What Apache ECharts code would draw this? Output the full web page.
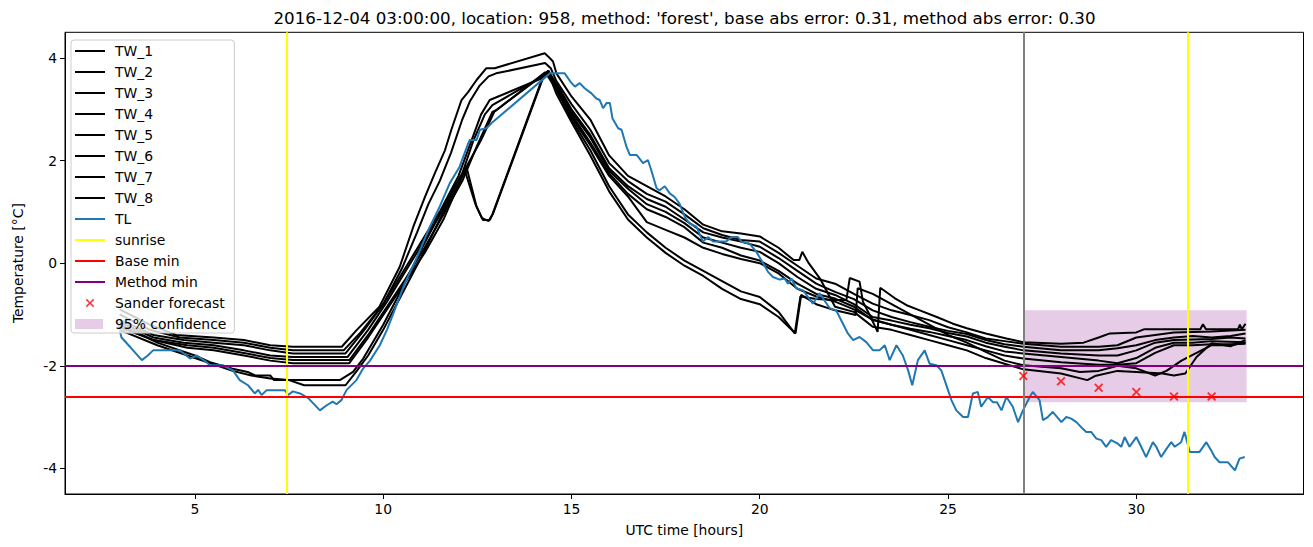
<!DOCTYPE html>
<html>
<head>
<meta charset="utf-8">
<script src="https://cdn.jsdelivr.net/npm/echarts@6/dist/echarts.min.js"></script>
<style>html,body{margin:0;padding:0;background:#fff}#c{width:1313px;height:547px}</style>
</head>
<body>
<div id="c"></div>
<script>
const titleText = "2016-12-04 03:00:00, location: 958, method: 'forest', base abs error: 0.31, method abs error: 0.30";
const xTicks = [5, 10, 15, 20, 25, 30];
const yTicks = [-4, -2, 0, 2, 4];
const twNames = ['TW_1','TW_2','TW_3','TW_4','TW_5','TW_6','TW_7','TW_8'];

const tw1 = [[3.0,-0.9],[3.8,-1.2],[4.5,-1.4],[5.5,-1.45],[6.3,-1.5],[7.0,-1.6],[7.6,-1.63],[8.9,-1.63],[9.3,-1.3],[9.9,-0.85],[10.44,-0.07],[10.8,0.71],[11.11,1.29],[11.37,1.75],[11.64,2.2],[11.81,2.6],[12.08,3.18],[12.26,3.34],[12.48,3.57],[12.74,3.8],[12.96,3.8],[14.29,4.09],[14.38,4.03],[14.51,3.93],[14.6,3.7],[15.0,3.25],[15.5,2.8],[16.0,2.1],[16.5,1.7],[17.0,1.5],[17.5,1.3],[18.0,1.05],[18.5,0.75],[19.0,0.62],[19.5,0.58],[20.0,0.52],[20.5,0.3],[20.9,0.06],[21.05,0.06],[21.13,0.22],[21.3,0.0],[21.6,-0.3],[22.0,-0.85],[22.5,-0.95],[23.0,-1.24],[23.5,-1.3],[24.0,-1.4],[24.5,-1.5],[25.0,-1.6],[25.5,-1.7],[26.0,-1.85],[26.5,-1.96],[27.0,-2.07],[28.0,-2.15],[28.7,-2.28],[28.9,-2.2],[29.5,-2.1],[30.0,-2.12],[30.7,-2.15],[31.0,-2.19],[31.3,-2.15],[31.6,-1.83],[32.0,-1.56],[32.5,-1.62],[32.9,-1.5]];
const tw2 = [[3.0,-1.0],[3.8,-1.3],[4.6,-1.45],[5.5,-1.5],[6.3,-1.55],[7.0,-1.65],[7.6,-1.7],[8.95,-1.7],[9.4,-1.35],[10.0,-0.8],[10.5,-0.1],[10.9,0.6],[11.2,1.15],[11.5,1.6],[11.8,2.15],[12.1,2.8],[12.3,3.15],[12.55,3.45],[12.8,3.64],[13.0,3.7],[14.3,3.9],[14.45,3.8],[14.6,3.55],[15.0,3.1],[15.5,2.6],[16.0,1.95],[16.5,1.6],[17.0,1.35],[17.5,1.2],[18.0,0.95],[18.5,0.68],[19.0,0.55],[19.5,0.45],[20.0,0.42],[20.5,0.2],[21.0,-0.05],[21.5,-0.3],[22.0,-0.4],[22.5,-0.6],[23.0,-0.79],[23.5,-0.92],[24.0,-1.01],[24.5,-1.11],[25.0,-1.25],[25.5,-1.35],[26.0,-1.47],[26.5,-1.52],[27.0,-1.57],[28.0,-1.63],[29.0,-1.63],[29.5,-1.6],[30.0,-1.45],[30.5,-1.4],[31.0,-1.35],[32.0,-1.33],[32.9,-1.3]];
const tw3 = [[3.0,-1.1],[3.9,-1.4],[4.7,-1.5],[5.5,-1.55],[6.3,-1.6],[7.0,-1.7],[7.6,-1.76],[9.0,-1.76],[9.5,-1.3],[10.0,-0.8],[10.5,-0.2],[11.0,0.4],[11.5,1.0],[12.0,1.7],[12.3,2.3],[12.6,2.9],[12.83,3.18],[14.2,3.6],[14.38,3.75],[14.6,3.5],[15.0,3.0],[15.5,2.5],[16.0,1.85],[16.5,1.5],[17.0,1.25],[17.5,1.1],[18.0,0.85],[18.5,0.6],[19.0,0.5],[19.5,0.42],[20.0,0.32],[20.5,0.1],[21.0,-0.15],[21.5,-0.4],[22.0,-0.56],[22.5,-0.7],[23.0,-0.92],[23.5,-1.05],[24.0,-1.15],[24.5,-1.24],[25.0,-1.32],[25.5,-1.38],[26.0,-1.5],[26.5,-1.58],[27.0,-1.63],[28.0,-1.7],[29.0,-1.7],[29.5,-1.66],[30.0,-1.6],[30.5,-1.5],[31.0,-1.45],[31.5,-1.42],[32.0,-1.45],[32.5,-1.42],[32.9,-1.37]];
const tw4 = [[3.0,-1.15],[3.9,-1.45],[4.7,-1.55],[5.5,-1.6],[6.3,-1.7],[7.0,-1.8],[7.6,-1.83],[9.05,-1.83],[9.6,-1.3],[10.1,-0.75],[10.6,-0.15],[11.1,0.45],[11.6,1.05],[12.1,1.75],[12.4,2.4],[12.7,2.9],[12.9,3.08],[14.25,3.65],[14.4,3.7],[14.65,3.4],[15.0,2.95],[15.5,2.45],[16.0,1.8],[16.5,1.45],[17.0,1.15],[17.5,1.0],[18.0,0.78],[18.5,0.5],[19.0,0.4],[19.5,0.3],[20.0,0.22],[20.5,0.0],[21.0,-0.27],[21.5,-0.5],[22.0,-0.62],[22.5,-0.8],[23.0,-1.05],[23.5,-1.12],[24.0,-1.2],[24.5,-1.27],[25.0,-1.36],[25.5,-1.43],[26.0,-1.55],[26.5,-1.63],[27.0,-1.7],[28.0,-1.76],[29.0,-1.8],[29.5,-1.8],[30.0,-1.7],[30.5,-1.55],[31.0,-1.5],[32.0,-1.48],[32.5,-1.45],[32.9,-1.47]];
const tw5 = [[3.0,-1.2],[3.9,-1.5],[4.8,-1.6],[5.5,-1.65],[6.3,-1.75],[7.0,-1.85],[7.6,-1.89],[9.1,-1.89],[9.6,-1.4],[10.1,-0.85],[10.6,-0.3],[11.1,0.3],[11.6,0.95],[12.1,1.6],[12.5,2.3],[12.9,2.95],[13.0,2.98],[14.3,3.7],[14.45,3.6],[14.7,3.3],[15.0,2.9],[15.5,2.35],[16.0,1.75],[16.5,1.35],[17.0,1.05],[17.5,0.9],[18.0,0.7],[18.5,0.4],[19.0,0.3],[19.5,0.15],[20.0,0.05],[20.5,-0.15],[21.0,-0.4],[21.5,-0.6],[22.0,-0.69],[22.5,-0.85],[23.0,-1.11],[23.5,-1.2],[24.0,-1.28],[24.5,-1.34],[25.0,-1.42],[25.5,-1.5],[26.0,-1.62],[26.5,-1.72],[27.0,-1.76],[28.0,-1.83],[29.0,-1.9],[29.5,-1.95],[30.0,-1.85],[30.5,-1.65],[31.0,-1.55],[31.5,-1.55],[32.0,-1.52],[32.9,-1.54]];
const tw6 = [[3.0,-1.25],[3.9,-1.5],[4.8,-1.65],[5.5,-1.7],[6.3,-1.8],[7.0,-1.9],[7.6,-1.95],[9.1,-1.95],[9.6,-1.45],[10.1,-0.9],[10.6,-0.35],[11.1,0.2],[11.6,0.85],[12.21,1.88],[12.6,2.4],[12.95,2.95],[14.3,3.72],[14.5,3.5],[14.8,3.1],[15.0,2.85],[15.5,2.3],[16.0,1.7],[16.5,1.3],[17.0,0.8],[17.5,0.65],[18.0,0.5],[18.5,0.3],[19.0,0.18],[19.5,0.08],[20.0,0.0],[20.5,-0.2],[21.0,-0.5],[21.5,-0.65],[22.0,-0.75],[22.5,-0.9],[23.0,-1.1],[23.5,-1.2],[24.0,-1.3],[24.5,-1.4],[25.0,-1.5],[25.5,-1.6],[26.0,-1.7],[26.5,-1.8],[27.0,-1.86],[28.0,-1.93],[29.0,-1.98],[29.5,-1.98],[30.0,-1.95],[30.5,-1.75],[31.0,-1.6],[31.5,-1.6],[32.0,-1.58],[32.5,-1.58],[32.9,-1.57]];
const tw7 = [[3.0,-1.2],[4.0,-1.55],[5.0,-1.8],[5.4,-1.93],[6.0,-2.06],[6.4,-2.12],[6.6,-2.19],[7.0,-2.19],[7.1,-2.28],[8.85,-2.28],[9.2,-2.12],[9.47,-1.86],[10.0,-1.2],[10.5,-0.5],[11.0,0.25],[11.5,0.95],[11.9,1.5],[12.21,1.88],[12.48,1.1],[12.65,0.84],[12.83,0.84],[12.92,0.97],[14.29,3.7],[14.4,3.75],[14.6,3.4],[15.0,2.8],[15.5,2.2],[16.0,1.5],[16.5,0.95],[17.0,0.6],[17.5,0.3],[18.0,0.05],[18.5,-0.15],[19.0,-0.35],[19.5,-0.55],[20.0,-0.66],[20.5,-0.95],[20.93,-1.37],[21.08,-0.65],[21.5,-0.7],[22.0,-0.72],[22.3,-0.72],[22.39,-0.29],[22.65,-0.36],[22.74,-0.75],[22.92,-1.01],[23.13,-1.34],[23.2,-0.48],[23.58,-0.68],[23.9,-0.82],[24.25,-0.92],[24.7,-1.05],[25.13,-1.18],[25.5,-1.27],[26.0,-1.37],[26.55,-1.47],[27.0,-1.54],[28.0,-1.57],[28.6,-1.55],[29.0,-1.45],[29.3,-1.37],[30.0,-1.35],[30.2,-1.29],[31.7,-1.29],[31.77,-1.19],[31.85,-1.29],[32.7,-1.29],[32.75,-1.2],[32.8,-1.29],[32.9,-1.18]];
const tw8 = [[3.0,-1.3],[4.0,-1.6],[5.0,-1.85],[6.0,-2.1],[6.5,-2.19],[7.0,-2.25],[7.5,-2.28],[7.9,-2.38],[9.0,-2.38],[9.3,-2.1],[9.6,-1.8],[10.0,-1.3],[10.5,-0.6],[11.0,0.1],[11.5,0.85],[11.9,1.4],[12.17,1.8],[12.45,1.15],[12.62,0.88],[12.8,0.82],[12.9,0.95],[14.25,3.65],[14.38,3.72],[14.6,3.3],[15.0,2.75],[15.5,2.1],[16.0,1.4],[16.5,0.85],[17.0,0.5],[17.5,0.2],[18.0,-0.05],[18.5,-0.25],[19.0,-0.5],[19.5,-0.7],[20.0,-0.8],[20.5,-1.05],[20.95,-1.37],[21.1,-0.62],[21.5,-0.8],[22.0,-0.92],[22.55,-1.01],[22.6,-0.49],[23.0,-0.6],[23.5,-0.8],[24.0,-1.0],[24.5,-1.2],[25.0,-1.4],[25.5,-1.55],[26.0,-1.73],[26.5,-1.9],[27.0,-1.99],[28.0,-2.05],[28.5,-2.12],[29.0,-2.1],[29.5,-2.0],[30.0,-2.05],[30.5,-2.19],[30.8,-2.1],[31.2,-1.9],[31.6,-1.75],[32.0,-1.6],[32.5,-1.6],[32.9,-1.55]];

const tl = [[2.93,-1.1],[3.05,-1.45],[3.3,-1.65],[3.59,-1.89],[3.75,-1.8],[3.89,-1.7],[4.6,-1.7],[4.87,-1.86],[5.05,-1.8],[5.31,-1.93],[5.4,-1.99],[5.74,-1.99],[6.01,-2.09],[6.19,-2.28],[6.41,-2.38],[6.59,-2.54],[6.68,-2.47],[6.77,-2.57],[6.9,-2.48],[7.39,-2.48],[7.48,-2.57],[7.6,-2.5],[7.79,-2.54],[8.01,-2.63],[8.32,-2.87],[8.5,-2.77],[8.66,-2.7],[8.76,-2.75],[8.89,-2.67],[9.03,-2.47],[9.29,-2.28],[9.47,-2.05],[9.65,-1.9],[9.91,-1.6],[10.1,-1.3],[10.26,-1.0],[10.57,-0.4],[10.89,0.1],[11.24,0.71],[11.5,1.1],[11.77,1.56],[12.03,1.88],[12.26,2.34],[12.3,2.4],[12.48,2.4],[12.57,2.6],[12.74,2.63],[12.88,2.73],[14.38,3.67],[14.42,3.7],[14.6,3.7],[14.82,3.7],[14.97,3.54],[15.09,3.44],[15.22,3.51],[15.35,3.41],[15.53,3.31],[15.66,3.21],[15.75,3.18],[15.84,3.02],[15.93,3.12],[16.02,3.12],[16.09,2.82],[16.24,2.63],[16.33,2.6],[16.46,2.27],[16.55,2.11],[16.73,2.11],[16.9,1.95],[17.03,2.01],[17.12,1.81],[17.26,1.46],[17.34,1.42],[17.48,1.5],[17.61,1.36],[17.74,1.29],[17.87,1.16],[18.01,0.9],[18.14,0.77],[18.32,0.71],[18.49,0.42],[18.63,0.51],[18.76,0.42],[19.11,0.42],[19.25,0.51],[19.42,0.51],[19.51,0.42],[19.73,0.38],[19.91,0.22],[20.09,0.0],[20.22,-0.17],[20.35,-0.27],[20.53,-0.32],[20.66,-0.3],[20.75,-0.4],[20.84,-0.3],[20.97,-0.49],[21.15,-0.53],[21.28,-0.66],[21.41,-0.79],[21.59,-0.59],[21.68,-0.69],[21.86,-0.88],[22.03,-0.92],[22.21,-1.18],[22.34,-1.37],[22.48,-1.5],[22.65,-1.44],[22.83,-1.54],[23.01,-1.7],[23.18,-1.7],[23.32,-1.6],[23.45,-1.89],[23.63,-1.6],[23.8,-1.8],[23.94,-2.09],[24.05,-2.38],[24.2,-1.89],[24.38,-1.7],[24.51,-1.96],[24.69,-1.99],[24.82,-2.09],[24.91,-2.28],[25.09,-2.67],[25.22,-2.87],[25.4,-3.0],[25.53,-3.0],[25.66,-2.54],[25.79,-2.51],[25.88,-2.8],[26.06,-2.61],[26.19,-2.71],[26.3,-2.71],[26.42,-2.87],[26.55,-2.61],[26.72,-2.8],[26.86,-3.1],[26.99,-2.87],[27.17,-2.61],[27.25,-2.51],[27.43,-2.67],[27.52,-3.06],[27.65,-3.0],[27.78,-2.9],[28.01,-3.1],[28.14,-3.0],[28.27,-3.03],[28.41,-3.1],[28.58,-3.23],[28.67,-3.29],[28.8,-3.29],[28.94,-3.42],[29.07,-3.45],[29.2,-3.58],[29.33,-3.45],[29.51,-3.52],[29.6,-3.58],[29.69,-3.39],[29.82,-3.58],[30.0,-3.39],[30.13,-3.58],[30.26,-3.78],[30.44,-3.49],[30.53,-3.58],[30.66,-3.78],[30.8,-3.62],[30.93,-3.49],[31.02,-3.58],[31.19,-3.49],[31.28,-3.29],[31.42,-3.68],[31.68,-3.68],[31.86,-3.49],[31.99,-3.65],[32.08,-3.78],[32.21,-3.88],[32.43,-3.88],[32.62,-4.04],[32.74,-3.81],[32.88,-3.78]];

const sanderHours = [27, 28, 29, 30, 31, 32];
const sanderValues = [-2.2, -2.3, -2.43, -2.51, -2.6, -2.6];
const sunriseHours = [7.44, 31.36];
const forecastHour = [27.0];
const baseMin = [-2.6];
const methodMin = [-2.0];
const confHours = [27.0, 32.93];
const confBounds = [-0.92, -2.71];

const twData = [tw1, tw2, tw3, tw4, tw5, tw6, tw7, tw8];

const FONT = 'DejaVu Sans';
const lineIcon = 'path://M0,0M35,14M0,6h30v2h-30z';
const xIcon = 'path://M0,0M35,14M10.8,3.9L11.9,2.8L15,5.9L18.1,2.8L19.2,3.9L16.1,7L19.2,10.1L18.1,11.2L15,8.1L11.9,11.2L10.8,10.1L13.9,7Z';
const patchIcon = 'path://M0,0M35,14M0,2h28v10h-28z';
const xSymbol = 'path://M0,1.4L1.4,0L5,3.6L8.6,0L10,1.4L6.4,5L10,8.6L8.6,10L5,6.4L1.4,10L0,8.6L3.6,5Z';

const series = [];
twData.forEach((d, i) => {
  series.push({
    name: twNames[i], type: 'line', data: d, showSymbol: false, symbol: 'none',
    color: '#000000', lineStyle: { color: '#000000', width: 2 }, z: 2, silent: true
  });
});
series.push({
  name: 'TL', type: 'line', data: tl, showSymbol: false, symbol: 'none',
  color: '#1f77b4', lineStyle: { color: '#1f77b4', width: 2 }, z: 3, silent: true
});
series.push({
  name: 'sunrise', type: 'line', data: [], color: '#ffff00', z: 4,
  markLine: { silent: true, symbol: ['none', 'none'], label: { show: false },
    lineStyle: { color: '#ffff00', width: 2, type: 'solid' },
    data: sunriseHours.map(h => ({ xAxis: h })) }
});
series.push({
  name: 'Base min', type: 'line', data: [], color: '#ff0000', z: 4,
  markLine: { silent: true, symbol: ['none', 'none'], label: { show: false },
    lineStyle: { color: '#ff0000', width: 2, type: 'solid' },
    data: baseMin.map(v => ({ yAxis: v })) }
});
series.push({
  name: 'Method min', type: 'line', data: [], color: '#800080', z: 4,
  markLine: { silent: true, symbol: ['none', 'none'], label: { show: false },
    lineStyle: { color: '#800080', width: 2, type: 'solid' },
    data: methodMin.map(v => ({ yAxis: v })) }
});
series.push({
  name: 'Sander forecast', type: 'scatter', data: sanderHours.map((h, i) => [h, sanderValues[i]]),
  symbol: xSymbol, symbolSize: 9, color: '#ff0000', itemStyle: { color: '#ff0000' }, z: 6, silent: true
});
series.push({
  name: '95% confidence', type: 'line', data: [], color: 'rgba(128,0,128,0.2)', z: 1,
  markArea: { silent: true, itemStyle: { color: 'rgba(128,0,128,0.2)' },
    data: [[{ xAxis: confHours[0], yAxis: confBounds[0] }, { xAxis: confHours[1], yAxis: confBounds[1] }]] }
});
series.push({
  name: 'forecast time', type: 'line', data: [], color: '#808080', z: 4,
  markLine: { silent: true, symbol: ['none', 'none'], label: { show: false },
    lineStyle: { color: '#808080', width: 2, type: 'solid' },
    data: forecastHour.map(h => ({ xAxis: h })) }
});

const legendData = twNames.map(n => ({ name: n, icon: lineIcon }))
  .concat([
    { name: 'TL', icon: lineIcon },
    { name: 'sunrise', icon: lineIcon },
    { name: 'Base min', icon: lineIcon },
    { name: 'Method min', icon: lineIcon },
    { name: 'Sander forecast', icon: xIcon },
    { name: '95% confidence', icon: patchIcon }
  ]);

const chart = echarts.init(document.getElementById('c'), null, { renderer: 'svg' });
chart.setOption({
  animation: false,
  backgroundColor: '#ffffff',
  textStyle: { fontFamily: FONT, color: '#000' },
  graphic: [{
    type: 'text', x: 684.5, y: 18, silent: true,
    style: { text: titleText, fill: '#000', font: '16.7px "DejaVu Sans"', textAlign: 'center', textVerticalAlign: 'middle' }
  }],
  grid: { left: 65, right: 9.5, top: 32.3, bottom: 53, show: true, borderColor: '#000', borderWidth: 1, backgroundColor: 'transparent' },
  legend: {
    orient: 'vertical', left: 71, top: 40, padding: [4, 8, 2, 4], itemGap: 7,
    itemWidth: 35, itemHeight: 14, selectedMode: false,
    backgroundColor: 'rgba(255,255,255,0.8)', borderColor: '#cccccc', borderWidth: 1, borderRadius: 3,
    textStyle: { fontFamily: FONT, fontSize: 13.9, color: '#000', lineHeight: 14 },
    data: legendData, z: 10
  },
  xAxis: {
    type: 'value', min: 1.55, max: 34.44,
    name: 'UTC time [hours]', nameLocation: 'middle', nameGap: 29,
    nameTextStyle: { fontFamily: FONT, fontSize: 13.9, color: '#000' },
    axisLine: { show: true, onZero: false, lineStyle: { color: '#000', width: 1 } },
    axisTick: { show: true, inside: false, length: 5, customValues: xTicks, lineStyle: { color: '#000' } },
    axisLabel: { show: true, customValues: xTicks, margin: 8, fontFamily: FONT, fontSize: 13.9, color: '#000' },
    splitLine: { show: false }
  },
  yAxis: {
    type: 'value', min: -4.5, max: 4.5,
    name: 'Temperature [°C]', nameLocation: 'middle', nameGap: 40, nameRotate: 90,
    nameTextStyle: { fontFamily: FONT, fontSize: 13.9, color: '#000' },
    axisLine: { show: true, onZero: false, lineStyle: { color: '#000', width: 1 } },
    axisTick: { show: true, inside: false, length: 5, customValues: yTicks, lineStyle: { color: '#000' } },
    axisLabel: { show: true, customValues: yTicks, margin: 8, fontFamily: FONT, fontSize: 13.9, color: '#000' },
    splitLine: { show: false }
  },
  series: series
});
</script>
</body>
</html>
